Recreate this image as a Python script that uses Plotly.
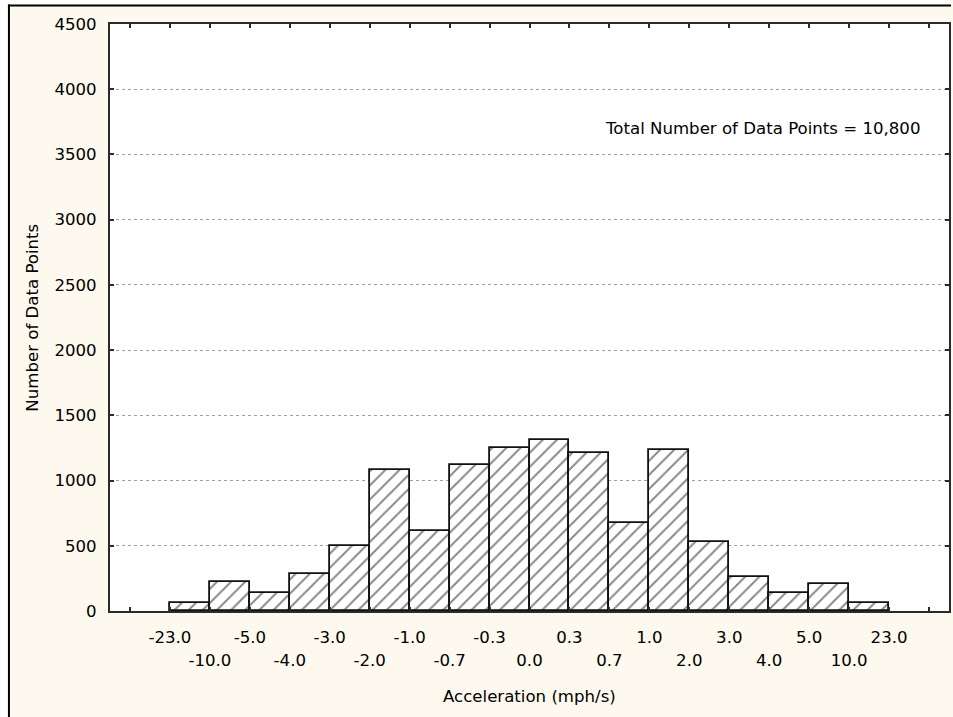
import numpy as np
import plotly.graph_objects as go

# ---- data ----
edge_labels = ["-23.0", "-10.0", "-5.0", "-4.0", "-3.0", "-2.0", "-1.0", "-0.7", "-0.3",
               "0.0", "0.3", "0.7", "1.0", "2.0", "3.0", "4.0", "5.0", "10.0", "23.0"]
counts = [59, 223, 141, 282, 500, 1079, 613, 1120, 1246, 1313, 1208, 677, 1231,
          526, 264, 138, 210, 59]
y_tick_values = [0, 500, 1000, 1500, 2000, 2500, 3000, 3500, 4000, 4500]
x_title = "Acceleration (mph/s)"
y_title = "Number of Data Points"
note = "Total Number of Data Points = 10,800"

# ---- layout geometry ----
W, H = 953, 717
L, R, T, B = 110, 2, 24, 106
pw, ph = W - L - R, H - T - B


def px_x(p):
    return (p - L) / pw


def px_y(p):
    return (H - B - p) / ph


FONT = dict(family="DejaVu Sans", size=16.6, color="#000000")
AXC = "#2a2a2a"

n_bins = len(counts)
centers = np.arange(n_bins) + 0.5
edge_pos = np.arange(len(edge_labels))
xr = [-1.5, n_bins + 1.5]

# ticks at every edge (plus one extra on each side), labels staggered in two rows
tick_pos = list(range(-1, len(edge_labels) + 1))
row1_text = [edge_labels[k] if 0 <= k < len(edge_labels) and k % 2 == 0 else "" for k in tick_pos]
row2_pos = [int(k) for k in edge_pos if k % 2 == 1]
row2_text = [edge_labels[k] for k in row2_pos]

fig = go.Figure()
fig.add_trace(go.Bar(
    x=centers, y=counts, width=1,
    marker=dict(color="white", line=dict(color="#111111", width=1.8),
                pattern=dict(shape="/", fgcolor="#111111", bgcolor="white",
                             size=10, solidity=0.2)),
    showlegend=False, hoverinfo="skip"))
fig.add_trace(go.Scatter(x=[None], y=[None], xaxis="x2", yaxis="y",
                         showlegend=False, hoverinfo="skip"))

fig.update_layout(
    width=W, height=H,
    margin=dict(l=L, r=R, t=T, b=B, pad=0),
    paper_bgcolor="#FEF9EE", plot_bgcolor="white",
    font=FONT, bargap=0,
    xaxis=dict(range=xr, tickmode="array", tickvals=tick_pos, ticktext=row1_text,
               ticks="inside", ticklen=4, tickwidth=2, tickcolor=AXC,
               showline=True, linecolor=AXC, linewidth=2, mirror="ticks",
               showgrid=False, zeroline=False, tickfont=FONT,
               ticklabelstandoff=10, fixedrange=True),
    xaxis2=dict(range=xr, overlaying="x", side="bottom", anchor="y",
                tickmode="array", tickvals=row2_pos, ticktext=row2_text,
                ticks="", showline=False, showgrid=False, zeroline=False,
                tickfont=FONT, ticklabelstandoff=37, fixedrange=True),
    yaxis=dict(range=[0, 4500], tickmode="array", tickvals=y_tick_values,
               ticks="inside", ticklen=4, tickwidth=2, tickcolor=AXC,
               showline=True, linecolor=AXC, linewidth=2, mirror="ticks",
               showgrid=True, gridcolor="#a0a0a0", gridwidth=1, griddash="dot",
               zeroline=False, tickfont=FONT, ticklabelstandoff=8,
               fixedrange=True),
)

fig.add_annotation(text=x_title, xref="paper", yref="paper",
                   x=0.5, y=px_y(697), xanchor="center", yanchor="middle",
                   showarrow=False, font=FONT)
fig.add_annotation(text=y_title, xref="paper", yref="paper",
                   x=px_x(32), y=0.5, xanchor="center", yanchor="middle",
                   textangle=-90, showarrow=False, font=FONT)
fig.add_annotation(text=note, xref="paper", yref="paper",
                   x=px_x(925), y=px_y(128), xanchor="right", yanchor="middle",
                   showarrow=False, font=FONT)

# image frame: white strip, black border at left and top
fig.add_shape(type="rect", xref="paper", yref="paper", layer="below",
              x0=px_x(0), x1=px_x(8), y0=px_y(H), y1=px_y(0),
              fillcolor="white", line=dict(width=0))
fig.add_shape(type="rect", xref="paper", yref="paper", layer="below",
              x0=px_x(0), x1=px_x(W), y0=px_y(4.5), y1=px_y(0),
              fillcolor="white", line=dict(width=0))
fig.add_shape(type="line", xref="paper", yref="paper",
              x0=px_x(8.7), x1=px_x(8.7), y0=px_y(4.5), y1=px_y(H),
              line=dict(color="black", width=2))
fig.add_shape(type="line", xref="paper", yref="paper",
              x0=px_x(7.7), x1=px_x(W), y0=px_y(5.5), y1=px_y(5.5),
              line=dict(color="black", width=2))

fig.write_html("out.html")
